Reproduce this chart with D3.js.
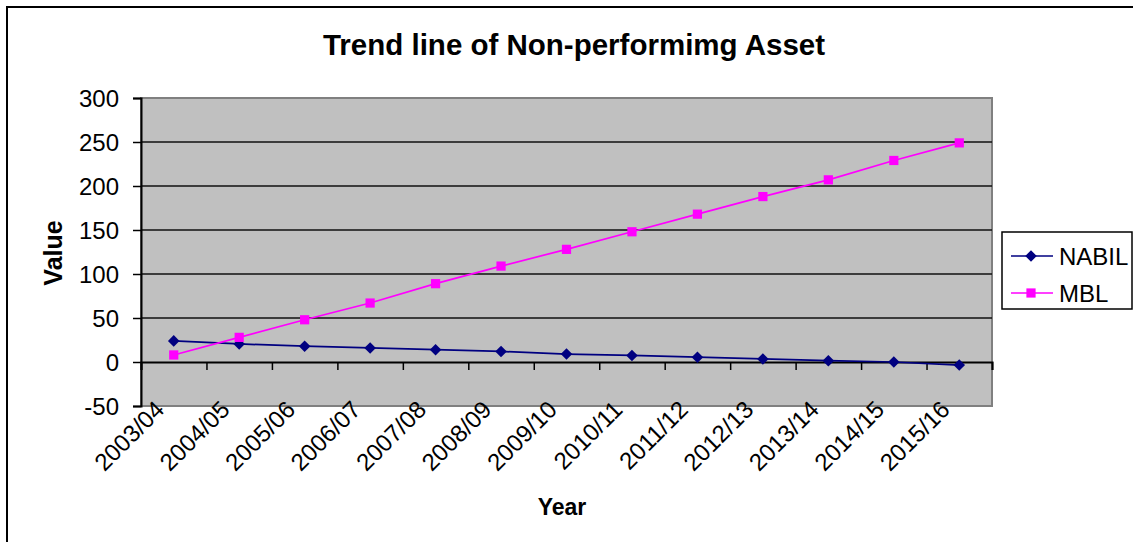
<!DOCTYPE html>
<html>
<head>
<meta charset="utf-8">
<script src="https://cdn.jsdelivr.net/npm/d3@7"></script>
<style>
  body { margin: 0; background: #fff; }
  text { font-family: "Liberation Sans", Arial, sans-serif; }
</style>
</head>
<body>
<div class="chart"></div>
<script>
// data
var years = ["2003/04", "2004/05", "2005/06", "2006/07", "2007/08", "2008/09", "2009/10",
  "2010/11", "2011/12", "2012/13", "2013/14", "2014/15", "2015/16"];
var nabil = [24, 20.5, 18, 16, 14, 12, 9, 7.5, 5.5, 3.5, 1.5, 0, -3.5];
var mbl = [8, 28, 48, 67, 89, 109, 128, 148, 168, 188, 207, 229, 249];
var yTicks = [-50, 0, 50, 100, 150, 200, 250, 300];
var seriesNames = ["NABIL", "MBL"];
var seriesColors = ["#000080", "#FF00FF"];

var svgWidth = 1133;
var svgHeight = 542;

// plot area box
var plot = { left: 141, right: 992, top: 98, bottom: 406 };

var svg = d3
  .select(".chart")
  .append("svg")
  .attr("width", svgWidth)
  .attr("height", svgHeight);

// outer chart frame (runs off the right and bottom edge)
svg.append("rect")
  .attr("x", 7)
  .attr("y", 7)
  .attr("width", svgWidth + 20)
  .attr("height", svgHeight + 20)
  .attr("fill", "#fff")
  .attr("stroke", "#000")
  .attr("stroke-width", 2);

// scales
var x = d3.scaleBand()
  .domain(years)
  .range([plot.left, plot.right]);

var y = d3.scaleLinear()
  .domain([-50, 300])
  .range([plot.bottom, plot.top]);

var cx = (d) => x(d) + x.bandwidth() / 2;

// grey plot background
svg.append("rect")
  .attr("x", plot.left)
  .attr("y", plot.top)
  .attr("width", plot.right - plot.left)
  .attr("height", plot.bottom - plot.top)
  .attr("fill", "#C0C0C0")
  .attr("stroke", "#808080")
  .attr("stroke-width", 2);

// gridlines
svg.append("g")
  .selectAll("line")
  .data(yTicks.filter((t) => t > -50 && t < 300 && t !== 0))
  .enter()
  .append("line")
  .attr("x1", plot.left)
  .attr("x2", plot.right)
  .attr("y1", (d) => y(d))
  .attr("y2", (d) => y(d))
  .attr("stroke", "#111")
  .attr("stroke-width", 1.5);

// y axis
var leftAxis = d3.axisLeft(y)
  .tickValues(yTicks)
  .tickSize(8)
  .tickPadding(14)
  .tickFormat((d) => String(d));
var yAxis = svg.append("g")
  .attr("transform", `translate(${plot.left},0)`)
  .call(leftAxis);
yAxis.select(".domain").attr("stroke", "#000").attr("stroke-width", 2);
yAxis.selectAll(".tick line").attr("stroke", "#000").attr("stroke-width", 1.5);
yAxis.selectAll(".tick text")
  .attr("fill", "#000")
  .style("font-size", "24px")
  .attr("dy", "0.36em");

// x axis on the zero line, ticks between categories
var edges = years.map((d) => x(d)).concat([plot.right]);
var edgeScale = d3.scaleLinear().domain([plot.left, plot.right]).range([plot.left, plot.right]);
var bottomAxis = d3.axisBottom(edgeScale).tickValues(edges).tickSize(8).tickFormat("");
var xAxis = svg.append("g")
  .attr("transform", `translate(0,${y(0)})`)
  .call(bottomAxis);
xAxis.select(".domain").attr("stroke", "#000").attr("stroke-width", 2);
xAxis.selectAll(".tick line").attr("stroke", "#000").attr("stroke-width", 1.5);

// category labels below the plot, rotated
svg.append("g")
  .selectAll("text")
  .data(years)
  .enter()
  .append("text")
  .attr("transform", (d) => `translate(${cx(d) - 8},${plot.bottom + 5}) rotate(-45)`)
  .attr("text-anchor", "end")
  .style("font-size", "24px")
  .attr("fill", "#000")
  .text((d) => d);

// lines and markers
var seriesData = [nabil, mbl];
var line = d3.line()
  .x((d, i) => cx(years[i]))
  .y((d) => y(d));

var symbols = [d3.symbol().type(d3.symbolDiamond2).size(85), d3.symbol().type(d3.symbolSquare).size(85)];

seriesData.forEach((vals, s) => {
  svg.append("path")
    .datum(vals)
    .attr("fill", "none")
    .attr("stroke", seriesColors[s])
    .attr("stroke-width", 1.7)
    .attr("d", line);

  svg.append("g")
    .selectAll("path")
    .data(vals)
    .enter()
    .append("path")
    .attr("transform", (d, i) => `translate(${cx(years[i])},${y(d)})`)
    .attr("d", symbols[s])
    .attr("fill", seriesColors[s]);
});

// title
svg.append("text")
  .attr("x", 574)
  .attr("y", 55)
  .attr("text-anchor", "middle")
  .style("font-size", "29.5px")
  .style("font-weight", "bold")
  .text("Trend line of Non-performimg Asset");

// axis titles
svg.append("text")
  .attr("transform", "translate(62,253) rotate(-90)")
  .attr("text-anchor", "middle")
  .style("font-size", "25px")
  .style("font-weight", "bold")
  .text("Value");

svg.append("text")
  .attr("x", 562)
  .attr("y", 515)
  .attr("text-anchor", "middle")
  .style("font-size", "23px")
  .style("font-weight", "bold")
  .text("Year");

// legend
var legend = svg.append("g");
legend.append("rect")
  .attr("x", 1002)
  .attr("y", 232)
  .attr("width", 130)
  .attr("height", 77)
  .attr("fill", "#fff")
  .attr("stroke", "#000")
  .attr("stroke-width", 1.5);

var legendRows = [256, 293];
seriesNames.forEach((name, s) => {
  legend.append("line")
    .attr("x1", 1011)
    .attr("x2", 1053)
    .attr("y1", legendRows[s])
    .attr("y2", legendRows[s])
    .attr("stroke", seriesColors[s])
    .attr("stroke-width", 1.5);
  legend.append("path")
    .attr("transform", `translate(1031,${legendRows[s]})`)
    .attr("d", symbols[s])
    .attr("fill", seriesColors[s]);
  legend.append("text")
    .attr("x", 1059)
    .attr("y", legendRows[s])
    .attr("dy", "0.36em")
    .style("font-size", "24px")
    .text(name);
});
</script>
</body>
</html>
